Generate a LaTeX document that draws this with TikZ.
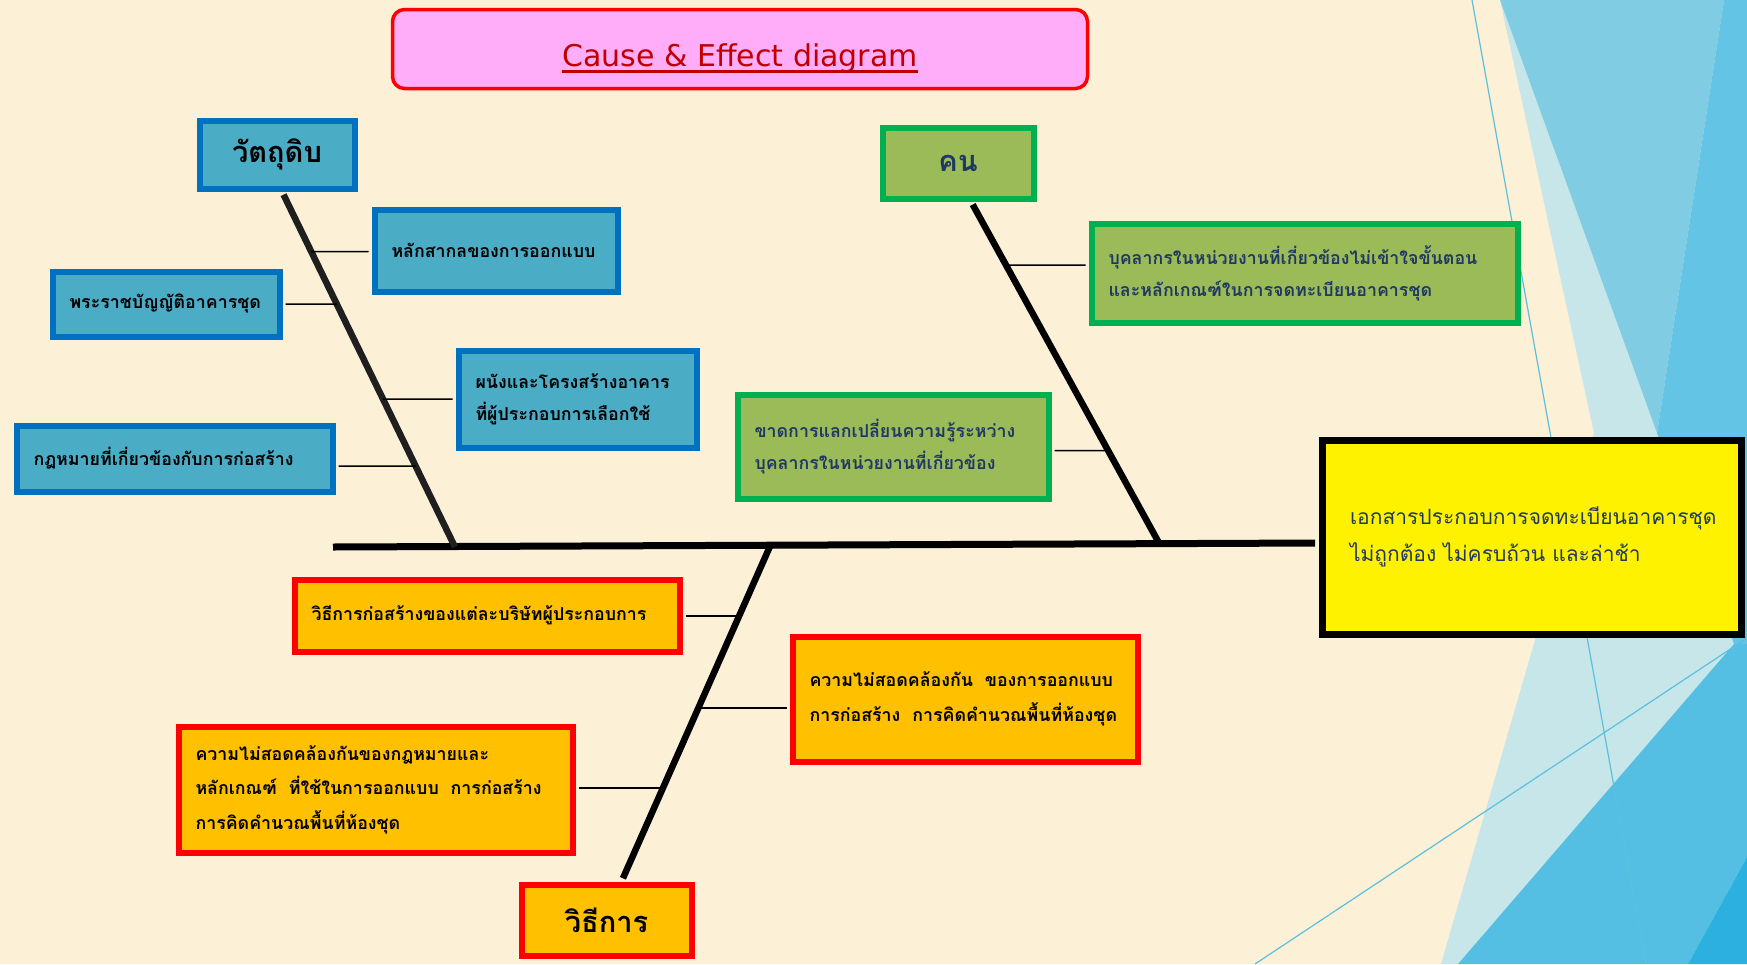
\documentclass[tikz,border=0pt]{standalone}
\usepackage{fontspec}
\usepackage{tikz}
\usetikzlibrary{shadows}
\newfontfamily\thaifont[Script=Thai]{Loma}
\newfontfamily\titlefont{DejaVu Sans}
\definecolor{paper}{HTML}{FCF0D7}
\definecolor{skypale}{HTML}{C6E6EA}
\definecolor{skylight}{HTML}{80CDE3}
\definecolor{skymid}{HTML}{64C4E5}
\definecolor{skydeep}{HTML}{55BFE3}
\definecolor{skydark}{HTML}{2BB0E0}
\definecolor{skyline}{HTML}{5BC0DE}
\definecolor{matline}{HTML}{0070C0}
\definecolor{matfill}{HTML}{4BACC6}
\definecolor{manline}{HTML}{00B050}
\definecolor{manfill}{HTML}{9BBB59}
\definecolor{wayline}{HTML}{FF0000}
\definecolor{wayfill}{HTML}{FFC000}
\definecolor{navy}{HTML}{1F3864}
\definecolor{titlered}{HTML}{C00000}
\definecolor{titlefill}{HTML}{FFADF8}
\newcommand*{\bigthai}{\thaifont\bfseries\fontsize{29}{36}\selectfont}
\newcommand*{\smallthai}{\thaifont\bfseries\fontsize{17.8}{32}\selectfont}
\newcommand*{\waythai}{\thaifont\bfseries\fontsize{17.8}{34.5}\selectfont}
\newcommand*{\effthai}{\thaifont\fontsize{21}{37}\selectfont}
\newcommand*{\redunder}[1]{\setbox0=\hbox{#1}\rlap{\rule[-7pt]{\wd0}{3.5pt}}\box0}

\begin{document}
\begin{tikzpicture}[x=1pt, y=-1pt]
  \useasboundingbox (0,0) rectangle (1747,964);

  % paper and the blue facets on the right
  \fill[paper] (0,0) rectangle (1747,964);
  \fill[skypale] (1500,0) -- (1657,433) -- (1734,644) -- (1458,964)
    -- (1441,964) -- (1535,640) -- (1594,433) -- cycle;
  \fill[skylight] (1500,0) -- (1724,0) -- (1657,433) -- cycle;
  \fill[skymid] (1724,0) -- (1747,0) -- (1747,644) -- (1734,644) -- (1657,433) -- cycle;
  \fill[skydeep] (1734,644) -- (1747,644) -- (1747,857) -- (1688,964) -- (1458,964) -- cycle;
  \fill[skydark] (1747,857) -- (1747,964) -- (1688,964) -- cycle;
  \draw[skyline, line width=1.2pt] (1472,0) -- (1646,964);
  \draw[skyline, line width=1.2pt] (1747,638) -- (1255,964);

  \tikzstyle{boxshade}=[drop shadow={shadow xshift=3pt, shadow yshift=-3pt, fill=black, opacity=.35}]

  \node[draw=wayline, fill=titlefill, line width=3.5pt, rounded corners=12pt,
    minimum width=695pt, minimum height=79pt, text=titlered, text height=34pt, text depth=0pt,
    font=\titlefont\fontsize{30}{36}\selectfont] (title) at (740,49)
    {\redunder{Cause \& Effect diagram}};

  {\tikzstyle{every node}=[boxshade, draw=matline, fill=matfill, line width=6pt,
      inner xsep=17pt, inner ysep=0pt, align=left, font=\smallthai]
    \node[font=\bigthai, minimum width=155pt, minimum height=68pt] (mat) at (277,154.5) {วัตถุดิบ};
    \node[text width=209pt, minimum height=82pt] (mat1) at (496,250.5) {หลักสากลของการออกแบบ};
    \node[text width=193pt, minimum height=65pt] (mat2) at (166,304) {พระราชบัญญัติอาคารชุด};
    \node[text width=204pt, minimum height=97pt] (mat3) at (577.5,399)
      {ผนังและโครงสร้างอาคาร\\ที่ผู้ประกอบการเลือกใช้};
    \node[text width=282pt, minimum height=66pt] (mat4) at (174.5,458.5) {กฎหมายที่เกี่ยวข้องกับการก่อสร้าง};
  }

  {\tikzstyle{every node}=[boxshade, draw=manline, fill=manfill, line width=6pt, text=navy,
      inner xsep=17pt, inner ysep=0pt, align=left, font=\smallthai]
    \node[font=\bigthai, minimum width=151pt, minimum height=71pt] (man) at (958,163) {คน};
    \node[text width=392pt, minimum height=99pt] (man1) at (1304.5,273)
      {บุคลากรในหน่วยงานที่เกี่ยวข้องไม่เข้าใจขั้นตอน\\และหลักเกณฑ์ในการจดทะเบียนอาคารชุด};
    \node[text width=277pt, minimum height=104pt] (man2) at (893,446.5)
      {ขาดการแลกเปลี่ยนความรู้ระหว่าง\\บุคลากรในหน่วยงานที่เกี่ยวข้อง};
  }

  {\tikzstyle{every node}=[boxshade, draw=wayline, fill=wayfill, line width=6pt,
      inner xsep=17pt, inner ysep=0pt, align=left, font=\waythai]
    \node[font=\bigthai, minimum width=170pt, minimum height=71pt] (way) at (606.5,920) {วิธีการ};
    \node[text width=351pt, minimum height=72pt] (way1) at (487,615.5) {วิธีการก่อสร้างของแต่ละบริษัทผู้ประกอบการ};
    \node[text width=311pt, minimum height=125pt] (way2) at (965,699)
      {ความไม่สอดคล้องกัน~~ของการออกแบบ\\การก่อสร้าง~~การคิดคำนวณพื้นที่ห้องชุด};
    \node[text width=360pt, minimum height=126pt] (way3) at (375.5,789.5)
      {ความไม่สอดคล้องกันของกฎหมายและ\\หลักเกณฑ์~~ที่ใช้ในการออกแบบ~~การก่อสร้าง\\การคิดคำนวณพื้นที่ห้องชุด};
  }

  \node[boxshade, draw=black, fill=yellow, line width=7pt, inner xsep=28pt, text width=363pt,
    minimum height=194pt, align=left, text=navy, font=\effthai] (eff) at (1531.5,537)
    {เอกสารประกอบการจดทะเบียนอาคารชุด\\ไม่ถูกต้อง ไม่ครบถ้วน และล่าช้า};

  % spine and bones
  \coordinate (tail) at (333,547);
  \coordinate (mattop) at ([xshift=5pt]mat.south);
  \coordinate (matjoint) at (455,547);
  \coordinate (mantop) at ([xshift=13pt]man.south);
  \coordinate (manjoint) at (1159,543);
  \coordinate (waytop) at ([xshift=15pt]way.north);
  \coordinate (wayjoint) at (771,544);

  \draw[line width=7pt, shorten >=3.5pt] (tail) -- ([yshift=-6pt]eff.west);
  \draw[line width=6.5pt, black!88, shorten <=3.5pt] (mattop) -- (matjoint);
  \draw[line width=6.5pt, shorten <=3.5pt] (mantop) -- (manjoint);
  \draw[line width=6.5pt, shorten <=3.5pt] (waytop) -- (wayjoint);

  \foreach \b/\s/\d in {mat1/west/-1, mat2/east/0, mat3/west/0, mat4/east/-7.5}
    \draw[line width=1.5pt, shorten <=3pt] ([yshift=\d pt]\b.\s) --
      (intersection cs: first line={(mattop)--(matjoint)},
        second line={([yshift=\d pt]\b.west)--([yshift=\d pt]\b.east)});
  \foreach \b/\s/\d in {man1/west/8, man2/east/-4}
    \draw[line width=1.5pt, shorten <=3pt] ([yshift=\d pt]\b.\s) --
      (intersection cs: first line={(mantop)--(manjoint)},
        second line={([yshift=\d pt]\b.west)--([yshift=\d pt]\b.east)});
  \foreach \b/\s/\d in {way1/east/0, way2/west/-8.5, way3/east/1.5}
    \draw[line width=2pt, shorten <=3pt] ([yshift=\d pt]\b.\s) --
      (intersection cs: first line={(waytop)--(wayjoint)},
        second line={([yshift=\d pt]\b.west)--([yshift=\d pt]\b.east)});
\end{tikzpicture}
\end{document}
